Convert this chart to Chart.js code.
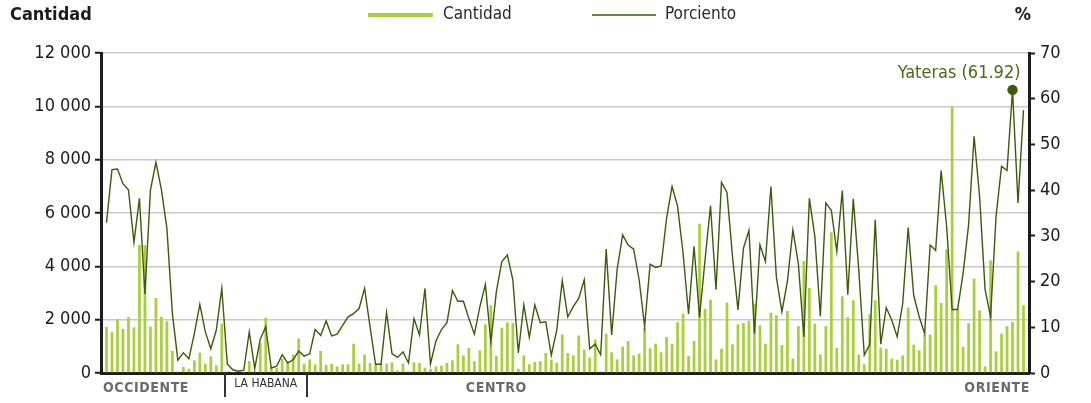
<!DOCTYPE html>
<html>
<head>
<meta charset="utf-8">
<script src="https://cdn.jsdelivr.net/npm/chart.js@4/dist/chart.umd.min.js"></script>
<style>
  html, body { margin: 0; padding: 0; background: #fff; }
  #wrap { width: 1091px; height: 403px; }
</style>
</head>
<body>
<div id="wrap"><canvas id="chart" width="1091" height="403"></canvas></div>
<script>
// one entry per municipio, west to east
const cantidad = [
  1725, 1540, 2025, 1650, 2090, 1710, 4800, 4800, 1740, 2810, 2110, 1940, 825, 60, 225, 160, 475, 760, 350, 625, 290, 1850,
  60, 40, 30, 50, 450, 80, 1125, 2075, 225, 190, 540, 375, 700, 1290, 350,
  510, 325, 825, 310, 350, 250, 325, 325, 1100, 350, 690, 375, 310, 350, 350, 400, 100, 350, 60, 400, 375, 200, 160, 250,
  275, 375, 475, 1075, 660, 940, 440, 850, 1825, 2540, 640, 1700, 1900, 1875, 160, 660, 325, 410, 440, 750, 500, 390, 1450,
  750, 660, 1410, 875, 575, 1250, 60, 1475, 775, 510, 990, 1200, 660, 725, 1700, 925, 1100, 775, 1350, 1090, 1910, 2225,
  640, 1200, 5600, 2410, 2750, 510, 910, 2640, 1075, 1825, 1875, 1960, 2600, 1790, 1100, 2260, 2160, 1050, 2325, 540,
  1760, 4200, 3190, 1850, 700, 1760, 5275, 940, 2875, 2100, 2725, 690, 325, 2200, 2725, 950, 910, 540, 500, 660, 2450,
  1060, 850, 1425, 1440, 3290, 2625, 4640, 9975, 2375, 975, 1875, 3540, 2350, 250, 4225, 810, 1475, 1760, 1910, 4560, 2540
];
const porciento = [
  32.9, 44.5, 44.6, 41.4, 40.1, 28.6, 38.2, 17.3, 40.0, 46.1, 40.1, 31.7, 13.0, 2.8, 4.4, 3.1, 8.6, 15.0, 9.0, 5.3, 9.4, 18.5,
  2.0, 0.7, 0.4, 0.6, 9.0, 1.0, 7.4, 10.1, 1.1, 1.5, 4.0, 2.2, 2.9, 4.8, 3.7,
  4.2, 9.5, 8.2, 11.4, 8.1, 8.5, 10.4, 12.3, 13.0, 14.1, 18.5, 10.1, 1.9, 1.9, 13.2, 4.2, 3.4, 4.6, 2.2, 11.9, 8.3, 18.5, 2.0, 7.0,
  9.5, 11.0, 18.0, 15.7, 15.7, 11.9, 8.5, 14.5, 19.4, 6.8, 17.8, 24.4, 25.8, 20.4, 4.4, 14.9, 7.8, 14.9, 11.0, 11.2, 3.9, 9.4, 20.2,
  12.3, 14.5, 16.3, 20.4, 5.3, 6.3, 4.0, 27.1, 8.3, 22.7, 30.2, 28.0, 27.1, 20.4, 10.2, 23.8, 23.1, 23.4, 33.9, 40.8, 36.5, 26.2,
  12.9, 27.7, 12.2, 24.7, 36.6, 18.2, 41.7, 39.5, 25.5, 13.8, 27.3, 31.2, 8.6, 28.0, 24.4, 40.8, 20.9, 13.4, 20.0, 31.3,
  23.9, 7.9, 38.2, 29.9, 12.4, 37.2, 35.6, 26.6, 39.9, 17.1, 38.1, 22.5, 3.9, 6.3, 33.5, 6.3, 14.3, 11.6, 7.9, 15.2, 31.8,
  17.0, 12.3, 8.6, 28.0, 26.8, 44.3, 32.1, 13.9, 13.9, 21.8, 32.4, 51.8, 38.7, 18.3, 12.3, 34.3, 45.2, 44.3, 61.92, 37.2, 57.5
];
const regiones = ["OCCIDENTE", "LA HABANA", "CENTRO", "ORIENTE"];
const regionSize = [22, 15, 76, 55];
const cantidadTicks = [0, 2000, 4000, 6000, 8000, 10000, 12000];
const porcientoTicks = [0, 10, 20, 30, 40, 50, 60, 70];
const destacado = { nombre: "Yateras", indice: 165 };

const FONT = "'Liberation Sans Narrow', 'DejaVu Sans Condensed', 'Roboto', sans-serif";
const BAR = "#a8d03c";
const LINE = "#3d5a0c";
const AXIS = "#1c1c1c";

Chart.defaults.font.family = FONT;
Chart.defaults.font.size = 18;
Chart.defaults.color = AXIS;

const fmt = v => String(v).replace(/\B(?=(\d{3})+(?!\d))/g, " ");

const extras = {
  id: "extras",
  afterDraw(chart) {
    const { ctx, chartArea, scales } = chart;
    ctx.save();

    // titles of both axes
    ctx.fillStyle = AXIS;
    ctx.font = "bold 18px " + FONT;
    ctx.textBaseline = "middle";
    ctx.textAlign = "left";
    ctx.fillText("Cantidad", 10, 15);
    ctx.textAlign = "right";
    ctx.fillText("%", 1031, 15);

    // legend
    ctx.font = "17px " + FONT;
    ctx.textAlign = "left";
    ctx.strokeStyle = BAR;
    ctx.lineWidth = 4;
    ctx.beginPath(); ctx.moveTo(368, 15); ctx.lineTo(433, 15); ctx.stroke();
    ctx.fillStyle = "#2a2a2a";
    ctx.fillText("Cantidad", 443, 15);
    ctx.strokeStyle = LINE;
    ctx.lineWidth = 1.5;
    ctx.beginPath(); ctx.moveTo(592, 15); ctx.lineTo(656, 15); ctx.stroke();
    ctx.fillText("Porciento", 665, 15);

    // highlighted point label
    const pt = chart.getDatasetMeta(1).data[destacado.indice];
    ctx.font = "18px " + FONT;
    ctx.fillStyle = "#4a6a14";
    ctx.textAlign = "right";
    ctx.textBaseline = "alphabetic";
    ctx.fillText(destacado.nombre + " (" + porciento[destacado.indice].toFixed(2) + ")", pt.x + 8, pt.y - 12);

    // region labels under the axis
    const x = scales.x;
    const bottom = chartArea.bottom;
    let start = 0;
    const bounds = regionSize.map(n => { const b = [start, start + n - 1]; start += n; return b; });
    ctx.strokeStyle = "#333";
    ctx.lineWidth = 2;
    [1, 2].forEach(r => {
      const px = Math.round(x.getPixelForValue(bounds[r][0] - 0.5));
      ctx.beginPath(); ctx.moveTo(px, bottom); ctx.lineTo(px, 397); ctx.stroke();
    });
    ctx.textBaseline = "middle";
    ctx.letterSpacing = "0.6px";
    ctx.font = "bold 14px " + FONT;
    ctx.fillStyle = "#6b6b6b";
    ctx.textAlign = "left";
    ctx.fillText(regiones[0], chartArea.left + 2, 388);
    ctx.textAlign = "center";
    ctx.fillText(regiones[2], x.getPixelForValue(71), 388);
    ctx.textAlign = "right";
    ctx.fillText(regiones[3], chartArea.right + 1, 388);
    ctx.letterSpacing = "0px";
    ctx.font = "12px " + FONT;
    ctx.fillStyle = "#333";
    ctx.textAlign = "center";
    const mid = (x.getPixelForValue(bounds[1][0] - 0.5) + x.getPixelForValue(bounds[1][1] + 0.5)) / 2;
    ctx.fillText(regiones[1], mid, 384);

    ctx.restore();
  }
};

new Chart(document.getElementById("chart"), {
  type: "bar",
  data: {
    datasets: [
      {
        type: "bar",
        label: "Cantidad",
        data: cantidad.map((v, i) => ({ x: i, y: v })),
        backgroundColor: BAR,
        barPercentage: 0.5,
        categoryPercentage: 1,
        yAxisID: "y",
        order: 2
      },
      {
        type: "line",
        label: "Porciento",
        data: porciento.map((v, i) => ({ x: i, y: v })),
        borderColor: LINE,
        backgroundColor: LINE,
        borderWidth: 1.4,
        tension: 0,
        pointRadius: c => (c.dataIndex === destacado.indice ? 4.5 : 0),
        pointHoverRadius: 0,
        yAxisID: "y1",
        order: 1
      }
    ]
  },
  options: {
    responsive: false,
    animation: false,
    layout: { padding: { top: 53, left: 0, right: 0, bottom: 0 } },
    plugins: { legend: { display: false }, tooltip: { enabled: false } },
    scales: {
      x: {
        type: "linear",
        offset: false,
        min: -1,
        max: cantidad.length,
        grid: { display: false, offset: false },
        ticks: { display: false },
        border: { display: true, color: AXIS, width: 3 },
        afterFit: s => { s.height = 30; }
      },
      y: {
        position: "left",
        min: cantidadTicks[0],
        max: cantidadTicks[cantidadTicks.length - 1],
        afterBuildTicks: s => { s.ticks = cantidadTicks.map(v => ({ value: v })); },
        ticks: { callback: v => fmt(v), padding: 4, color: AXIS },
        grid: { color: "#c9c9c9", lineWidth: 1.5, tickColor: AXIS, tickLength: 6, tickWidth: 2 },
        border: { display: true, color: AXIS, width: 3 },
        afterFit: s => { s.width = 101; }
      },
      y1: {
        position: "right",
        min: porcientoTicks[0],
        max: porcientoTicks[porcientoTicks.length - 1],
        afterBuildTicks: s => { s.ticks = porcientoTicks.map(v => ({ value: v })); },
        ticks: { padding: 5, color: AXIS },
        grid: { drawOnChartArea: false, tickColor: AXIS, tickLength: 6, tickWidth: 2 },
        border: { display: true, color: AXIS, width: 3 },
        afterFit: s => { s.width = 62; }
      }
    }
  },
  plugins: [extras]
});
</script>
</body>
</html>
